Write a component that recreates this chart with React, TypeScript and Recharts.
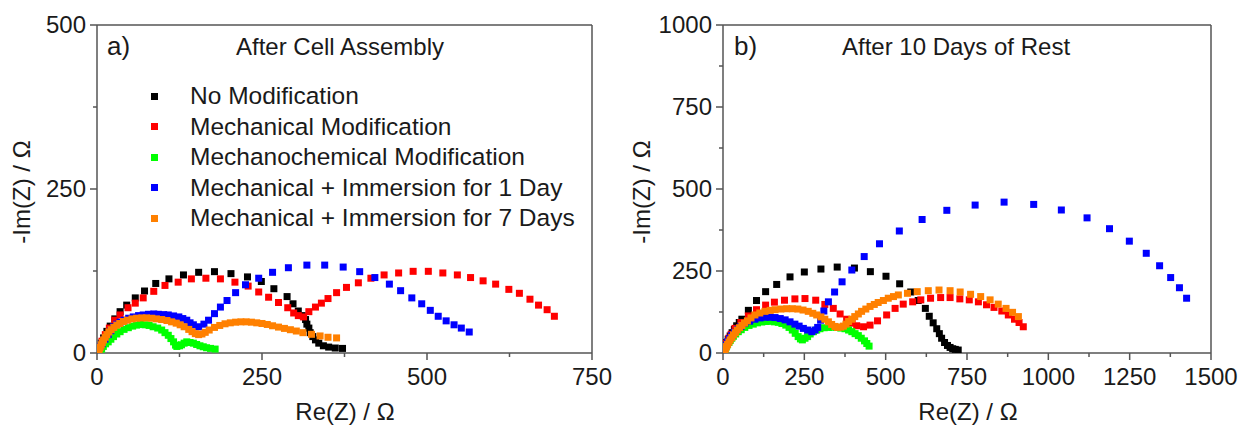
import React from "react";
import { ScatterChart, Scatter, XAxis, YAxis, ReferenceLine } from "recharts";

const FONT = '"Liberation Sans", Arial, sans-serif';
const AXIS = "#555";

const seriesNames = [
  "No Modification",
  "Mechanical Modification",
  "Mechanochemical Modification",
  "Mechanical + Immersion for 1 Day",
  "Mechanical + Immersion for 7 Days",
];
const seriesColors = ["#000000", "#ff0000", "#00ff00", "#0000ff", "#ff8000"];

// panel a) After Cell Assembly  [Re(Z), -Im(Z)]
const aNoMod: [number, number][] = [
  [2.5, 7.6], [6.6, 15], [10, 23], [15, 33], [20, 41], [27, 52], [35, 63], [45, 73], [58, 84], [72, 94.5],
  [89, 106], [109, 113], [131, 119], [154, 123], [178, 124], [203, 121], [228, 116], [249, 109], [268, 98],
  [288, 86], [297, 75], [305, 64], [311, 57], [316, 51], [318, 44], [321, 38], [323, 31], [327, 25], [331, 20],
  [336, 15], [343, 11], [351, 9], [361, 7.6], [372, 7],
];
const aMech: [number, number][] = [
  [3.5, 9], [7.6, 18], [12.6, 28], [18.7, 38], [26.8, 50], [35, 58], [47, 69], [58, 76], [70, 84], [86, 94],
  [103, 103], [123, 108], [143, 113], [165, 114], [187, 113], [209, 108], [229, 102], [245, 93], [260, 85],
  [275, 77], [289, 69], [298, 61], [305, 57], [313, 55], [321, 63], [331, 70], [340, 76], [350, 83], [363, 92],
  [378, 100], [396, 107], [415, 114], [435, 119], [457, 122], [479, 124.5], [502, 124.5], [524, 122],
  [546, 119], [566, 115], [585, 110], [604, 105], [624, 97], [640, 91], [656, 82], [669, 73], [682, 66], [693, 56],
];
const aMechChem: [number, number][] = [
  [4.5, 2], [7, 6], [9.6, 10], [13, 14], [17, 17], [21, 21], [25, 25], [30, 29], [35, 32.5], [41, 36],
  [47.5, 38.6], [54, 41], [60, 42.5], [66, 43.5], [73, 43], [79, 42], [85, 40], [92, 38], [98, 35], [103, 31],
  [108, 27], [112, 22], [116, 17], [119, 12], [121, 10], [125, 11], [128, 12.5], [132, 15], [136, 17],
  [141, 16], [146, 15], [151, 13], [156, 11], [161, 9.5], [166, 8], [172, 7], [179, 6],
];
const aImm1: [number, number][] = [
  [2.5, 6], [5, 10], [7.6, 14], [12, 21], [17, 28], [21, 34], [25, 40], [30, 44], [35, 47], [41, 50],
  [48, 53], [55, 55], [63, 57], [70, 58], [78, 59], [86, 59.5], [93, 59], [101, 58.5], [108, 58], [116, 56.5],
  [124, 55], [130, 52.5], [136, 50], [141, 46], [146, 43], [154, 40], [162, 44], [169, 50], [178, 60],
  [187, 70], [197, 80], [210, 92], [225, 104], [245, 114], [266, 123], [290, 130], [318, 134], [345, 134],
  [373, 131], [398, 124], [421, 115], [443, 105], [460, 95], [477, 84], [492, 75], [505, 65], [517, 56],
  [529, 49], [541, 43], [552, 38], [564, 32],
];
const aImm7: [number, number][] = [
  [1.5, 1], [2.5, 3], [3.5, 6], [5, 9], [6.5, 12.5], [8, 16], [10, 20], [12.5, 24], [15, 28], [18, 32],
  [21.5, 35.5], [25.5, 39], [30, 42.5], [34.5, 45], [40, 48], [46, 50], [53, 52], [60, 53], [68, 53.5],
  [75, 53.5], [83, 53], [90, 52], [98, 51], [106, 49.5], [113, 47.5], [120, 45.5], [126, 43], [132, 40],
  [139, 36], [144, 32.5], [149, 29.5], [154, 28], [159, 29], [164, 31.5], [170, 35], [178, 39], [186, 42],
  [194, 44.5], [202, 46], [210, 47], [218, 47.5], [226, 47.5], [234, 47], [242, 46], [250, 45], [258, 43.5],
  [266, 41.5], [275, 39.5], [284, 37.5], [293, 35.5], [302, 33.5], [312, 31], [325, 28.5], [338, 26],
  [350, 24], [363, 23],
];

// panel b) After 10 Days of Rest
const bNoMod: [number, number][] = [
  [2, 5], [4, 12], [7, 22], [11, 32], [16, 42], [22, 52], [28, 62], [35, 72], [42, 83], [50, 93], [58, 103],
  [78, 130], [103, 160], [131, 187], [165, 209], [206, 232], [250, 247], [301, 256], [351, 262], [404, 259],
  [453, 248], [501, 234], [543, 211], [577, 186], [600, 160], [622, 136], [634, 112], [646, 92], [657, 74],
  [665, 59], [672, 45], [681, 32], [690, 23], [698, 17], [706, 13], [714, 11], [723, 9],
];
const bMech: [number, number][] = [
  [2, 5], [4, 12], [7, 20], [11, 30], [18, 45], [25, 57], [37, 75], [55, 93], [78, 113], [103, 132],
  [131, 146], [158, 155], [189, 161], [221, 165], [252, 166], [285, 161], [313, 148], [339, 136], [360, 119],
  [380, 103], [397, 91], [411, 83], [432, 80], [452, 85], [475, 98], [503, 116], [529, 136], [554, 149],
  [583, 156], [608, 162], [638, 167], [669, 169], [698, 169], [728, 165], [757, 162], [785, 156], [810, 147],
  [833, 139], [857, 128], [877, 116], [896, 103], [910, 93], [923, 80],
];
const bMechChem: [number, number][] = [
  [3, 3], [6, 10], [10, 18], [14, 25], [18, 32], [22, 38], [27, 45], [32, 51], [39, 58], [47, 65], [56, 71],
  [67, 78], [80, 84], [93, 88], [106, 92], [119, 94.5], [132, 96], [145, 96.5], [158, 95], [170, 93.5],
  [181, 90], [193, 85], [203, 78], [213, 70], [222, 60], [231, 50], [238, 43], [244, 40], [252, 45],
  [260, 50], [268, 58], [278, 65], [288, 70], [298, 74], [311, 77], [324, 78], [337, 78.5], [350, 78],
  [362, 76], [375, 74], [386, 70], [396, 65], [406, 59], [416, 53], [425, 45], [435, 37], [442, 29], [449, 21],
];
const bImm1: [number, number][] = [
  [2, 5], [5, 14], [9, 24], [14, 34], [20, 44], [27, 54], [35, 63], [45, 72], [55, 81], [67, 90], [82, 97],
  [98, 103], [114, 107], [129, 109], [145, 109], [160, 108], [176, 105], [191, 101], [206, 95], [221, 88],
  [234, 82], [247, 75], [260, 70], [273, 65], [283, 70], [291, 78], [300, 100], [310, 128], [324, 156],
  [343, 186], [366, 217], [396, 253], [434, 294], [481, 333], [542, 372], [612, 407], [688, 435], [775, 451],
  [864, 460], [955, 453], [1040, 436], [1119, 412], [1188, 379], [1249, 341], [1301, 304], [1342, 266],
  [1376, 230], [1403, 199], [1425, 167],
];
const bImm7: [number, number][] = [
  [3, 4], [6, 9], [8, 14], [11, 20], [14, 26], [18, 33], [22, 40], [27, 47], [32, 55], [38, 62], [44, 70],
  [51, 77], [58, 84], [66, 91], [75, 98], [86, 107], [98, 116], [113, 122], [129, 127], [145, 130], [160, 132],
  [178, 134], [196, 135], [213, 135], [230, 134], [246, 131], [262, 127], [276, 121], [288, 116], [301, 110],
  [313, 103], [324, 95], [334, 87], [344, 81], [352, 78], [362, 79], [370, 82], [378, 88], [386, 96],
  [396, 103], [405, 111], [416, 119], [426, 127], [439, 134], [452, 142], [465, 148], [477, 154], [493, 160],
  [508, 167], [524, 172], [539, 177], [567, 182], [597, 187], [631, 190], [664, 192], [698, 190], [729, 186],
  [761, 179], [792, 172], [821, 162], [846, 149], [870, 136], [890, 124], [908, 111],
];

const xTicksA = [0, 125, 250, 375, 500, 625, 750];
const xMajorA = [0, 250, 500, 750];
const yTicksA = [0, 125, 250, 375, 500];
const yMajorA = [0, 250, 500];
const xTicksB = [0, 125, 250, 375, 500, 625, 750, 875, 1000, 1125, 1250, 1375, 1500];
const xMajorB = [0, 250, 500, 750, 1000, 1250, 1500];
const yTicksB = [0, 125, 250, 375, 500, 625, 750, 875, 1000];
const yMajorB = [0, 250, 500, 750, 1000];

const toPts = (arr: [number, number][]) => arr.map(([x, y]) => ({ x, y }));

const XTick = (major: number[]) => (props: any) => {
  const { x, y, payload } = props;
  const isMajor = major.includes(payload.value);
  return (
    <g>
      <line x1={x} x2={x} y1={y} y2={y + (isMajor ? 7 : 4)} stroke={AXIS} strokeWidth={1.5} />
      {isMajor && (
        <text x={x} y={y + 32} textAnchor="middle" fontSize={24} fill="#1a1a1a" fontFamily={FONT}>
          {payload.value}
        </text>
      )}
    </g>
  );
};

const YTick = (major: number[]) => (props: any) => {
  const { x, y, payload } = props;
  const isMajor = major.includes(payload.value);
  return (
    <g>
      <line x1={x} x2={x - (isMajor ? 7 : 4)} y1={y} y2={y} stroke={AXIS} strokeWidth={1.5} />
      {isMajor && (
        <text x={x - 11} y={y + 8} textAnchor="end" fontSize={24} fill="#1a1a1a" fontFamily={FONT}>
          {payload.value}
        </text>
      )}
    </g>
  );
};

const square = (color: string) => (p: any) =>
  <rect x={p.cx - 3.5} y={p.cy - 3.5} width={7} height={7} fill={color} />;

function Panel(props: {
  series: [number, number][][];
  xMax: number;
  yMax: number;
  xTicks: number[];
  xMajor: number[];
  yTicks: number[];
  yMajor: number[];
  yAxisWidth: number;
  rightMargin: number;
}) {
  const { series, xMax, yMax, xTicks, xMajor, yTicks, yMajor, yAxisWidth, rightMargin } = props;
  return (
    <ScatterChart width={620} height={427} margin={{ top: 25, right: rightMargin, bottom: 0, left: 0 }}>
      <XAxis
        type="number"
        dataKey="x"
        domain={[0, xMax]}
        ticks={xTicks}
        interval={0}
        height={74}
        tickSize={0}
        tickMargin={0}
        tickLine={false}
        axisLine={{ stroke: AXIS, strokeWidth: 1.5 }}
        tick={XTick(xMajor)}
        allowDataOverflow
      />
      <YAxis
        type="number"
        dataKey="y"
        domain={[0, yMax]}
        ticks={yTicks}
        interval={0}
        width={yAxisWidth}
        tickSize={0}
        tickMargin={0}
        tickLine={false}
        axisLine={{ stroke: AXIS, strokeWidth: 1.5 }}
        tick={YTick(yMajor)}
        allowDataOverflow
      />
      <ReferenceLine y={yMax} stroke={AXIS} strokeWidth={1.5} />
      <ReferenceLine x={xMax} stroke={AXIS} strokeWidth={1.5} />
      {series.map((s, i) => (
        <Scatter
          key={seriesNames[i]}
          name={seriesNames[i]}
          data={toPts(s)}
          fill={seriesColors[i]}
          shape={square(seriesColors[i])}
          isAnimationActive={false}
        />
      ))}
    </ScatterChart>
  );
}

const txt: React.CSSProperties = {
  position: "absolute",
  fontFamily: FONT,
  color: "#1a1a1a",
  whiteSpace: "nowrap",
  lineHeight: 1,
};

export default function App() {
  return (
    <div style={{ position: "relative", width: 1240, height: 427, background: "#fff", overflow: "hidden" }}>
      <style>{`body{margin:0}`}</style>
      <div style={{ position: "absolute", left: 0, top: 0 }}>
        <Panel
          series={[aNoMod, aMech, aMechChem, aImm1, aImm7]}
          xMax={750}
          yMax={500}
          xTicks={xTicksA}
          xMajor={xMajorA}
          yTicks={yTicksA}
          yMajor={yMajorA}
          yAxisWidth={97}
          rightMargin={28}
        />
      </div>
      <div style={{ position: "absolute", left: 620, top: 0 }}>
        <Panel
          series={[bNoMod, bMech, bMechChem, bImm1, bImm7]}
          xMax={1500}
          yMax={1000}
          xTicks={xTicksB}
          xMajor={xMajorB}
          yTicks={yTicksB}
          yMajor={yMajorB}
          yAxisWidth={103}
          rightMargin={29}
        />
      </div>

      {/* panel labels and titles */}
      <div style={{ ...txt, left: 107, top: 33, fontSize: 26 }}>a)</div>
      <div style={{ ...txt, left: 340, top: 35, fontSize: 24, transform: "translateX(-50%)" }}>After Cell Assembly</div>
      <div style={{ ...txt, left: 734, top: 33, fontSize: 26 }}>b)</div>
      <div style={{ ...txt, left: 956, top: 35, fontSize: 24, transform: "translateX(-50%)" }}>After 10 Days of Rest</div>

      {/* axis titles */}
      <div style={{ ...txt, left: 345, top: 400, fontSize: 24, transform: "translateX(-50%)" }}>Re(Z) / Ω</div>
      <div style={{ ...txt, left: 968, top: 400, fontSize: 24, transform: "translateX(-50%)" }}>Re(Z) / Ω</div>
      <div style={{ ...txt, left: 22, top: 192, fontSize: 24, transform: "translate(-50%, -50%) rotate(-90deg)" }}>-Im(Z) / Ω</div>
      <div style={{ ...txt, left: 642, top: 192, fontSize: 24, transform: "translate(-50%, -50%) rotate(-90deg)" }}>-Im(Z) / Ω</div>

      {/* legend */}
      {seriesNames.map((n, i) => (
        <div key={n} style={{ ...txt, left: 151, top: 84 + i * 30.5, fontSize: 24.5, display: "flex", alignItems: "center" }}>
          <span style={{ display: "inline-block", width: 7, height: 7, background: seriesColors[i], marginRight: 32 }} />
          <span>{n}</span>
        </div>
      ))}
    </div>
  );
}
